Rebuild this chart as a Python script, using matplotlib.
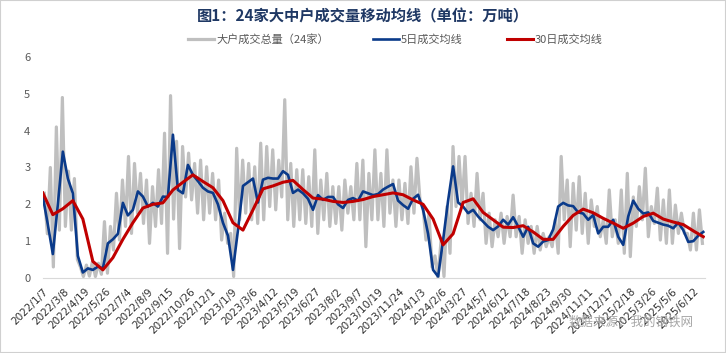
import numpy as np
import matplotlib
matplotlib.use("Agg")
import matplotlib.pyplot as plt
from matplotlib.patches import Rectangle

plt.rcParams["font.family"] = ["Noto Sans CJK SC", "DejaVu Sans"]

# trading days covered by the chart
n_days = 790

tick_labels = [
    "2022/1/7", "2022/3/8", "2022/4/19", "2022/5/26", "2022/7/4", "2022/8/9",
    "2022/9/15", "2022/10/26", "2022/12/1", "2023/1/9", "2023/3/6", "2023/4/12",
    "2023/5/19", "2023/6/27", "2023/8/2", "2023/9/7", "2023/10/19", "2023/11/24",
    "2024/1/3", "2024/2/6", "2024/3/27", "2024/5/7", "2024/6/12", "2024/7/18",
    "2024/8/23", "2024/9/30", "2024/11/11", "2024/12/17", "2025/2/18", "2025/3/26",
    "2025/5/6", "2025/6/12",
]

gray_vol = [
    2.3, 1.2, 3.0, 0.3, 4.1, 1.3, 4.9, 1.4, 2.9, 1.3, 2.7, 0.5, 0.3, 0.04, 0.35, 0.05, 0.44, 0.04, 0.4, 0.1,
    1.53, 0.13, 1.4, 0.76, 2.3, 1.03, 2.66, 1.4, 3.3, 1.21, 3.11, 1.76, 2.84, 1.48, 2.66, 0.94, 2.48, 1.4, 2.94, 1.48,
    3.93, 0.67, 4.95, 1.6, 3.71, 0.8, 3.57, 2.2, 3.39, 2.12, 3.11, 1.76, 3.2, 1.58, 3.02, 1.76, 2.84, 1.58, 2.66, 1.03,
    1.76, 0.94, 1.21, 0.04, 3.52, 1.58, 3.2, 1.76, 3.11, 1.58, 3.02, 1.48, 3.66, 1.58, 3.57, 1.94, 3.48, 1.85, 3.2, 2.2,
    4.84, 1.58, 3.11, 1.4, 2.94, 1.58, 2.94, 1.48, 2.75, 1.4, 3.48, 1.21, 2.66, 1.58, 2.84, 1.4, 2.48, 1.48, 2.48, 1.3,
    2.66, 1.76, 2.48, 1.58, 3.11, 1.58, 3.2, 0.85, 2.84, 1.58, 3.48, 1.58, 2.84, 1.4, 3.48, 1.76, 2.66, 1.4, 2.66, 1.58,
    2.57, 1.48, 3.02, 1.76, 3.25, 2.12, 1.94, 1.03, 1.76, 0.3, 0.6, 0.0, 1.0, 0.04, 1.94, 0.67, 3.57, 1.94, 3.3, 1.94,
    3.3, 1.48, 2.3, 1.4, 2.84, 1.58, 2.3, 0.94, 1.76, 0.85, 1.58, 1.12, 1.76, 0.94, 1.67, 1.12, 2.25, 1.12, 1.67, 0.67,
    1.58, 0.94, 1.4, 0.67, 1.4, 0.76, 1.21, 0.85, 1.12, 0.85, 1.58, 0.67, 3.3, 1.58, 2.66, 0.85, 2.57, 1.3, 2.75, 1.21,
    2.3, 0.94, 2.12, 1.4, 1.94, 1.12, 1.58, 0.94, 2.39, 1.12, 1.58, 0.94, 2.39, 0.67, 2.84, 0.58, 2.2, 1.4, 2.48, 1.58,
    2.98, 1.12, 1.94, 1.48, 2.44, 1.03, 2.12, 0.94, 2.39, 0.94, 1.98, 1.21, 1.76, 1.21, 1.21, 0.76, 1.76, 0.76, 1.85, 0.94,
]

blue_ma5 = [
    2.21, 1.45, 0.65, 2.0, 3.43, 2.7, 2.3, 0.6, 0.15, 0.26,
    0.22, 0.31, 0.26, 0.94, 1.05, 1.2, 2.04, 1.7, 1.85, 2.35,
    2.21, 1.94, 2.04, 1.94, 2.21, 2.2, 3.89, 2.39, 2.3, 3.07,
    2.8, 2.63, 2.45, 2.35, 2.31, 2.0, 1.5, 1.15, 0.22, 1.3,
    2.5, 2.6, 2.7, 2.05, 2.67, 2.72, 2.7, 2.7, 2.9, 2.8,
    2.31, 2.4, 2.3, 2.15, 1.85, 2.25, 2.12, 2.2, 2.2, 2.0,
    1.9, 2.12, 2.17, 2.1, 2.35, 2.3, 2.25, 2.28, 2.4, 2.48,
    2.55, 2.1, 1.98, 1.88, 2.15, 2.26, 1.85, 1.2, 0.22, 0.04,
    1.03, 2.1, 3.03, 2.05, 1.94, 1.76, 1.85, 1.67, 1.53, 1.39,
    1.3, 1.4, 1.58, 1.45, 1.65, 1.4, 1.12, 1.39, 0.94, 0.85,
    0.99, 1.03, 1.32, 1.94, 2.04, 1.97, 1.95, 1.78, 1.75, 1.58,
    1.71, 1.21, 1.39, 1.39, 1.58, 1.12, 0.9, 1.67, 2.1, 1.88,
    1.75, 1.78, 1.55, 1.5, 1.45, 1.42, 1.35, 1.5, 1.3, 0.98,
    1.0, 1.15, 1.25,
]

red_ma30 = [
    2.31, 1.72, 1.88, 2.1, 1.6, 0.45, 0.22, 0.55, 1.05, 1.5,
    1.9, 2.0, 2.04, 2.39, 2.6, 2.8, 2.62, 2.45, 2.1, 1.5,
    1.3, 1.85, 2.42, 2.5, 2.6, 2.65, 2.4, 2.17, 2.14, 2.08,
    2.05, 2.08, 2.13, 2.21, 2.26, 2.31, 2.26, 2.12, 2.0, 1.6,
    0.9, 1.2, 2.05, 2.15, 1.78, 1.58, 1.38, 1.37, 1.42, 1.25,
    1.05, 1.05, 1.4, 1.7, 1.87, 1.77, 1.62, 1.49, 1.35, 1.49,
    1.67, 1.76, 1.6, 1.52, 1.45, 1.28, 1.12,
]

gray_x = np.linspace(1.8, 786, len(gray_vol))
blue_x = np.linspace(0, 787, len(blue_ma5))
red_x = np.linspace(0, 787, len(red_ma30))

fig = plt.figure(figsize=(7.26, 3.53), dpi=100)
ax = fig.add_axes([0.059, 0.2125, 0.912, 0.626])

ax.plot(gray_x, gray_vol, color="#bfbfbf", lw=2.3, label="大户成交总量（24家）")
ax.plot(blue_x, blue_ma5, color="#0a3a8a", lw=1.9, label="5日成交均线")
ax.plot(red_x, red_ma30, color="#c00000", lw=2.2, label="30日成交均线")

ax.set_xlim(0, n_days - 1)
ax.set_ylim(0, 6)
ax.set_yticks(range(0, 7))
ax.set_xticks(np.arange(len(tick_labels)) * 25)
ax.set_xticklabels(tick_labels, rotation=45, ha="right", rotation_mode="anchor",
                   fontsize=7.5, color="#303030", family=["DejaVu Sans"])
ax.tick_params(axis="x", length=0, pad=6)
ax.tick_params(axis="y", length=0, pad=9, labelsize=8, labelcolor="#595959")

for side in ["left", "right", "top"]:
    ax.spines[side].set_visible(False)
ax.spines["bottom"].set_color("#d9d9d9")

fig.text(0.5, 0.952, "图1：24家大中户成交量移动均线（单位：万吨）", ha="center", va="center",
         fontsize=11, fontweight="bold", color="#1f3864")
fig.legend(loc="center", bbox_to_anchor=(0.545, 0.887), ncol=3, frameon=False,
           fontsize=8, labelcolor="#595959", handlelength=2.3, handletextpad=0.2,
           columnspacing=4.0)
fig.text(0.955, 0.088, "数据来源：我的钢铁网", ha="right", va="center",
         fontsize=9, color="#a6a6a6")

fig.patches.append(Rectangle((0, 0), 1, 1, transform=fig.transFigure, fill=False,
                             edgecolor="#d0d0d0", lw=1.5))

fig.savefig("out.png", dpi=100)
